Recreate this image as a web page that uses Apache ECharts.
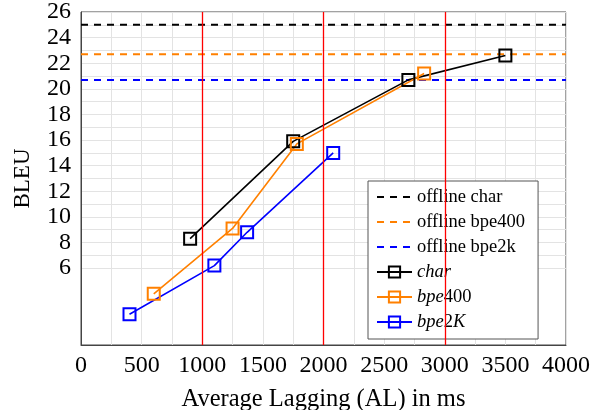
<!DOCTYPE html>
<html>
<head>
<meta charset="utf-8">
<script src="https://cdn.jsdelivr.net/npm/echarts@6/dist/echarts.min.js"></script>
<style>html,body{margin:0;padding:0;background:#fff}#c{width:592px;height:410px}</style>
</head>
<body>
<div id="c"></div>
<script>
const charX = [900, 1750, 2700, 3500];
const charY = [8.3, 15.9, 20.7, 22.6];
const bpe400X = [600, 1250, 1780, 2830];
const bpe400Y = [4.0, 9.1, 15.7, 21.2];
const bpe2kX = [400, 1100, 1370, 2080];
const bpe2kY = [2.4, 6.2, 8.8, 15.0];
const offlineNames = ['offline char', 'offline bpe400', 'offline bpe2k'];
const offlineValues = [25.0, 22.7, 20.7];
const redLinesX = [1000, 2000, 3000];
const xTickLabels = [0, 500, 1000, 1500, 2000, 2500, 3000, 3500, 4000];
const yTickLabels = [6, 8, 10, 12, 14, 16, 18, 20, 22, 24, 26];

const FONT = 'Liberation Serif';
const colors = ['#000000', '#ff8000', '#0000ff'];
const xMin = 0, xMax = 4000, yMin = 0, yMax = 26;

function pts(xs, ys) { return xs.map((x, i) => [x, ys[i]]); }

// gridline colours: none below first labelled tick
const gridCols = [];
for (let v = yMin; v <= yMax; v++) gridCols.push(v >= yTickLabels[0] ? '#e3e3e3' : 'rgba(0,0,0,0)');

const series = [];
series.push({
  name: 'red', type: 'line', data: [], silent: true, z: 1,
  markLine: {
    silent: true, symbol: ['none', 'none'], label: { show: false },
    lineStyle: { color: '#ff0000', width: 1.3, type: 'solid', opacity: 1 },
    data: redLinesX.map(x => ({ xAxis: x }))
  }
});
offlineNames.forEach((n, i) => {
  series.push({
    name: n, type: 'line', symbol: 'none', z: 2,
    data: [[xMin, offlineValues[i]], [xMax, offlineValues[i]]],
    lineStyle: { color: colors[i], width: 2, type: [7, 6] },
    itemStyle: { color: colors[i] }
  });
});
const runs = [
  ['char', charX, charY],
  ['bpe400', bpe400X, bpe400Y],
  ['bpe2K', bpe2kX, bpe2kY]
];
runs.forEach((r, i) => {
  series.push({
    name: r[0], type: 'line', z: 3,
    data: pts(r[1], r[2]),
    symbol: 'rect', symbolSize: 12,
    lineStyle: { color: colors[i], width: 1.6 },
    itemStyle: { color: 'rgba(255,255,255,0)', borderColor: colors[i], borderWidth: 2 }
  });
});

const legendData = offlineNames.map(n => ({ name: n, itemStyle: { opacity: 0 } }))
  .concat(runs.map(r => ({ name: r[0] })));

const chart = echarts.init(document.getElementById('c'));
chart.setOption({
  animation: false,
  backgroundColor: '#fff',
  grid: { left: 81, right: 26, top: 12, bottom: 65, outerBoundsMode: 'none', containLabel: false, show: true, borderColor: '#444', borderWidth: 1, backgroundColor: 'transparent' },
  xAxis: {
    type: 'value', min: xMin, max: xMax, interval: 250,
    name: 'Average Lagging (AL) in ms', nameLocation: 'middle', nameGap: 42,
    nameTextStyle: { fontFamily: FONT, fontSize: 24.5, color: '#000' },
    axisLine: { show: true, lineStyle: { color: '#444' } },
    axisTick: { show: false },
    axisLabel: {
      fontFamily: FONT, fontSize: 24, color: '#000', margin: 9,
      formatter: v => xTickLabels.indexOf(v) >= 0 ? String(v) : ''
    },
    splitLine: { show: true, lineStyle: { color: '#e3e3e3', width: 1 } }
  },
  yAxis: {
    type: 'value', min: yMin, max: yMax, interval: 1,
    name: 'BLEU', nameLocation: 'middle', nameGap: 47, nameRotate: 90,
    nameTextStyle: { fontFamily: FONT, fontSize: 23, color: '#000' },
    axisLine: { show: true, lineStyle: { color: '#444' } },
    axisTick: { show: false },
    axisLabel: {
      fontFamily: FONT, fontSize: 24, color: '#000', margin: 10,
      formatter: v => yTickLabels.indexOf(v) >= 0 ? String(v) : ''
    },
    splitLine: { show: true, lineStyle: { color: gridCols, width: 1 } }
  },
  legend: {
    orient: 'vertical', left: 368, top: 181,
    data: legendData,
    backgroundColor: '#fff', borderColor: '#555', borderWidth: 1,
    padding: [6, 13, 7, 8],
    itemWidth: 35, itemHeight: 14, itemGap: 5,
    textStyle: {
      fontFamily: FONT, fontSize: 18.5, color: '#000', lineHeight: 20,
      rich: {
        i: { fontFamily: FONT, fontSize: 18.5, fontStyle: 'italic', color: '#000' },
        n: { fontFamily: FONT, fontSize: 18.5, color: '#000' }
      }
    },
    formatter: function (name) {
      if (name === 'char') return '{i|char}';
      if (name === 'bpe400') return '{i|bpe}{n|400}';
      if (name === 'bpe2K') return '{i|bpe}{n|2}{i|K}';
      return name;
    }
  },
  series: series
});
</script>
</body>
</html>
